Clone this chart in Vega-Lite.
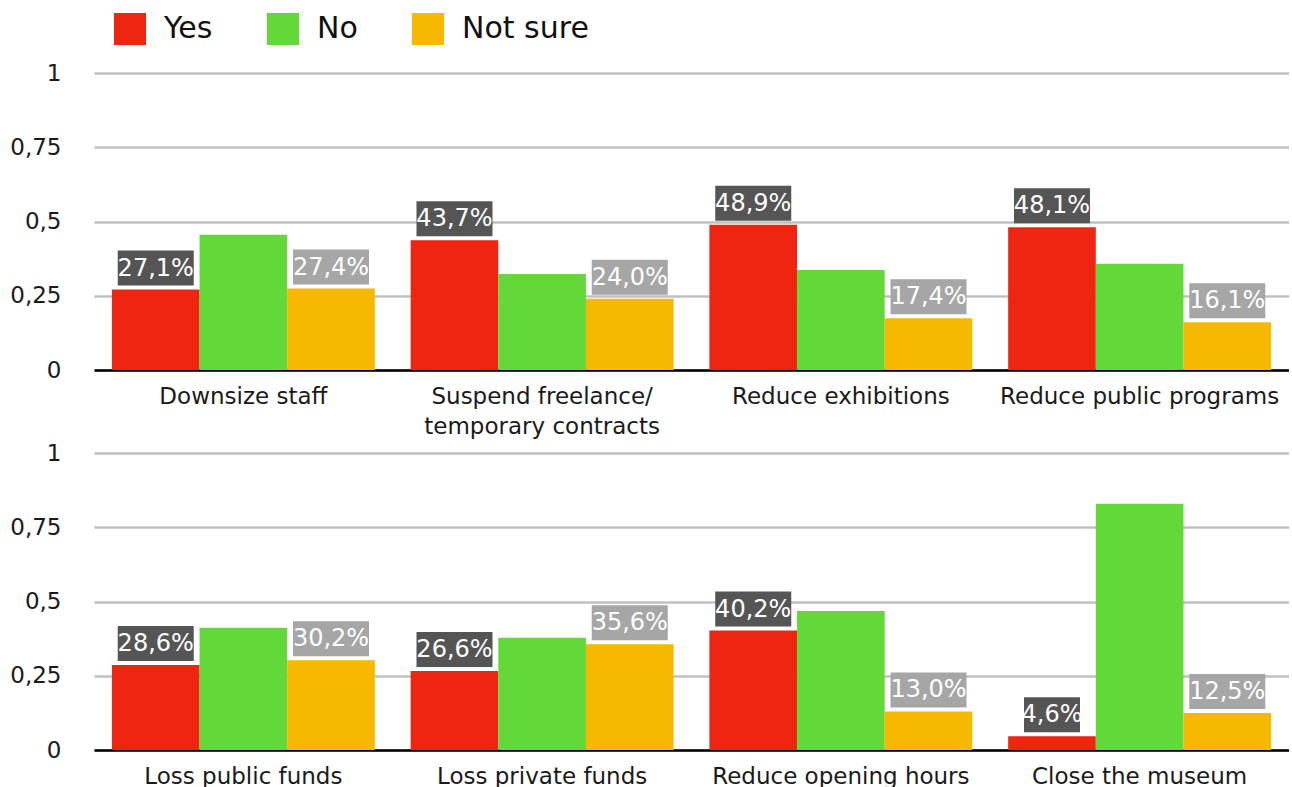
{
  "$schema": "https://vega.github.io/schema/vega-lite/v6.json",
  "autosize": {"type": "pad"},
  "padding": {"left": 9, "top": 13, "right": 0, "bottom": 0},
  "background": "white",
  "data": {"values": [
    {"panel": 1, "category": "Downsize staff", "answer": "Yes", "value": 0.271},
    {"panel": 1, "category": "Downsize staff", "answer": "No", "value": 0.455},
    {"panel": 1, "category": "Downsize staff", "answer": "Not sure", "value": 0.274},
    {"panel": 1, "category": "Suspend freelance/ temporary contracts", "answer": "Yes", "value": 0.437},
    {"panel": 1, "category": "Suspend freelance/ temporary contracts", "answer": "No", "value": 0.323},
    {"panel": 1, "category": "Suspend freelance/ temporary contracts", "answer": "Not sure", "value": 0.240},
    {"panel": 1, "category": "Reduce exhibitions", "answer": "Yes", "value": 0.489},
    {"panel": 1, "category": "Reduce exhibitions", "answer": "No", "value": 0.337},
    {"panel": 1, "category": "Reduce exhibitions", "answer": "Not sure", "value": 0.174},
    {"panel": 1, "category": "Reduce public programs", "answer": "Yes", "value": 0.481},
    {"panel": 1, "category": "Reduce public programs", "answer": "No", "value": 0.358},
    {"panel": 1, "category": "Reduce public programs", "answer": "Not sure", "value": 0.161},
    {"panel": 2, "category": "Loss public funds", "answer": "Yes", "value": 0.286},
    {"panel": 2, "category": "Loss public funds", "answer": "No", "value": 0.412},
    {"panel": 2, "category": "Loss public funds", "answer": "Not sure", "value": 0.302},
    {"panel": 2, "category": "Loss private funds", "answer": "Yes", "value": 0.266},
    {"panel": 2, "category": "Loss private funds", "answer": "No", "value": 0.378},
    {"panel": 2, "category": "Loss private funds", "answer": "Not sure", "value": 0.356},
    {"panel": 2, "category": "Reduce opening hours", "answer": "Yes", "value": 0.402},
    {"panel": 2, "category": "Reduce opening hours", "answer": "No", "value": 0.468},
    {"panel": 2, "category": "Reduce opening hours", "answer": "Not sure", "value": 0.130},
    {"panel": 2, "category": "Close the museum", "answer": "Yes", "value": 0.046},
    {"panel": 2, "category": "Close the museum", "answer": "No", "value": 0.829},
    {"panel": 2, "category": "Close the museum", "answer": "Not sure", "value": 0.125}
  ]},
  "facet": {
    "row": {"field": "panel", "type": "ordinal", "header": {"title": null, "labels": false}}
  },
  "spacing": 83,
  "bounds": "flush",
  "resolve": {"scale": {"x": "independent", "xOffset": "independent"}, "axis": {"x": "independent"}},
  "spec": {
    "width": 1195,
    "height": 297,
    "encoding": {
      "x": {
        "field": "category", "type": "nominal", "sort": null,
        "scale": {"paddingInner": 0.12, "paddingOuter": 0.06},
        "axis": {
          "title": null, "labelAngle": 0, "ticks": false,
          "domainColor": "#000000", "domainWidth": 2.5,
          "labelFont": "DejaVu Sans", "labelFontSize": 23, "labelColor": "#1a1a1a",
          "labelPadding": 15, "labelLimit": 500, "labelLineHeight": 30,
          "labelBaseline": "top",
          "labelExpr": "datum.label == 'Suspend freelance/ temporary contracts' ? ['Suspend freelance/', 'temporary contracts'] : datum.label"
        }
      },
      "xOffset": {
        "field": "answer", "type": "nominal",
        "scale": {"domain": ["Yes", "No", "Not sure"], "paddingInner": 0, "paddingOuter": 0}
      },
      "y": {
        "field": "value", "type": "quantitative",
        "scale": {"domain": [0, 1]},
        "axis": {
          "title": null, "values": [0, 0.25, 0.5, 0.75, 1],
          "labelExpr": "replace(format(datum.value, '.2~f'), '.', ',')",
          "domain": false, "ticks": false,
          "labelFont": "DejaVu Sans", "labelFontSize": 23, "labelColor": "#1a1a1a",
          "labelPadding": 33,
          "gridColor": "#c0c0c0", "gridWidth": 2.5
        }
      }
    },
    "layer": [
      {
        "mark": {"type": "bar"},
        "encoding": {
          "color": {
            "field": "answer", "type": "nominal",
            "scale": {"domain": ["Yes", "No", "Not sure"], "range": ["#ee2510", "#62d938", "#f6b900"]},
            "legend": {
              "title": null, "orient": "none", "direction": "horizontal",
              "legendX": 20, "legendY": -60,
              "symbolType": "square", "symbolSize": 1024, "symbolStrokeWidth": 0,
              "symbolOpacity": 1,
              "labelFont": "DejaVu Sans", "labelFontSize": 30, "labelColor": "#111111",
              "labelOffset": 18, "columnPadding": 54
            }
          }
        }
      },
      {
        "transform": [{"filter": "datum.answer != 'No'"}],
        "mark": {"type": "bar", "yOffset": -39, "y2Offset": -4},
        "encoding": {
          "y2": {"field": "value"},
          "size": {"condition": {"test": "datum.value < 0.1", "value": 56}, "value": 76},
          "color": {"condition": {"test": "datum.answer == 'Yes'", "value": "#555555"}, "value": "#a6a6a6"}
        }
      },
      {
        "transform": [{"filter": "datum.answer != 'No'"}],
        "mark": {"type": "text", "yOffset": -21, "baseline": "middle", "align": "center",
                 "font": "DejaVu Sans", "fontSize": 24, "color": "#ffffff"},
        "encoding": {
          "text": {"field": "value", "type": "quantitative", "format": ".1%"}
        }
      }
    ]
  },
  "config": {
    "view": {"stroke": null},
    "locale": {"number": {"decimal": ",", "thousands": ".", "grouping": [3], "currency": ["", " €"]}}
  }
}
